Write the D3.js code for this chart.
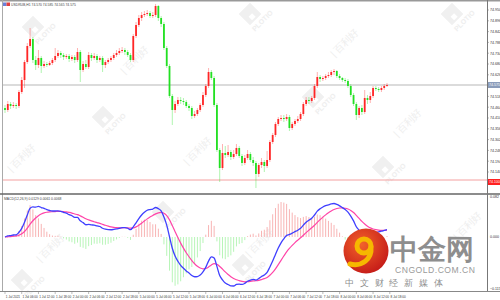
<!DOCTYPE html>
<html>
<head>
<meta charset="utf-8">
<script src="https://cdn.jsdelivr.net/npm/d3@7"></script>
<style>
  body { margin: 0; background: #fff; }
  svg { display: block; }
  text { font-family: "Liberation Sans", "DejaVu Sans", sans-serif; }
</style>
</head>
<body>
<script>
// ---- data (H1 bars) ----
const symbolLabel = "USDRUB,H1  74.570 74.585 74.565 74.575";
const macdLabel = "MACD(12,26,9) 0.0129 0.0061 0.0068";

const firstOpen = 74.460;
const closes = [74.450,74.480,74.470,74.475,74.470,74.540,74.600,74.690,74.770,74.805,
  74.700,74.675,74.710,74.670,74.680,74.675,74.685,74.700,74.720,74.735,
  74.725,74.715,74.720,74.705,74.715,74.700,74.740,74.650,74.680,74.665,
  74.725,74.710,74.720,74.700,74.710,74.675,74.690,74.700,74.710,74.725,
  74.735,74.745,74.750,74.740,74.725,74.700,74.820,74.875,74.910,74.925,
  74.930,74.935,74.920,74.925,74.970,74.910,74.880,74.760,74.670,74.520,
  74.450,74.480,74.500,74.495,74.490,74.470,74.460,74.420,74.430,74.450,
  74.475,74.525,74.570,74.640,74.610,74.475,74.250,74.160,74.235,74.225,
  74.240,74.215,74.230,74.260,74.220,74.185,74.210,74.230,74.200,74.185,
  74.130,74.175,74.190,74.170,74.200,74.290,74.325,74.380,74.405,74.410,
  74.405,74.415,74.360,74.380,74.395,74.405,74.430,74.480,74.500,74.495,
  74.510,74.570,74.615,74.605,74.610,74.620,74.625,74.640,74.645,74.620,
  74.610,74.600,74.595,74.570,74.525,74.480,74.425,74.460,74.440,74.510,
  74.500,74.520,74.560,74.555,74.550,74.560,74.570,74.575];
const highs = [74.475,74.495,74.490,74.490,74.485,74.550,74.615,74.700,74.785,74.860,
  74.815,74.720,74.750,74.720,74.695,74.690,74.695,74.710,74.760,74.750,
  74.745,74.735,74.730,74.730,74.725,74.725,74.760,74.750,74.695,74.700,
  74.740,74.735,74.735,74.730,74.720,74.720,74.700,74.710,74.720,74.735,
  74.750,74.760,74.765,74.760,74.750,74.735,74.830,74.890,74.925,74.940,
  74.945,74.950,74.945,74.940,74.980,74.975,74.920,74.890,74.770,74.680,
  74.530,74.495,74.515,74.515,74.510,74.500,74.480,74.470,74.445,74.460,
  74.485,74.540,74.580,74.660,74.650,74.620,74.485,74.260,74.280,74.270,
  74.275,74.250,74.250,74.280,74.270,74.230,74.225,74.250,74.240,74.215,
  74.195,74.185,74.210,74.200,74.245,74.300,74.335,74.390,74.415,74.425,
  74.425,74.430,74.425,74.390,74.405,74.420,74.440,74.490,74.515,74.515,
  74.520,74.580,74.640,74.625,74.620,74.630,74.640,74.650,74.655,74.650,
  74.630,74.615,74.610,74.605,74.580,74.535,74.490,74.470,74.475,74.550,
  74.525,74.540,74.570,74.570,74.565,74.570,74.580,74.585];
const lows = [74.435,74.440,74.455,74.460,74.455,74.460,74.530,74.560,74.680,74.760,
  74.685,74.650,74.660,74.635,74.660,74.665,74.670,74.675,74.690,74.710,
  74.710,74.700,74.705,74.690,74.695,74.685,74.690,74.590,74.640,74.655,
  74.655,74.695,74.700,74.685,74.690,74.640,74.660,74.680,74.690,74.700,
  74.715,74.725,74.735,74.725,74.715,74.690,74.690,74.810,74.865,74.895,
  74.915,74.920,74.910,74.910,74.915,74.895,74.865,74.750,74.660,74.510,
  74.375,74.435,74.470,74.480,74.475,74.460,74.445,74.405,74.410,74.420,
  74.440,74.465,74.515,74.560,74.600,74.465,74.240,74.090,74.150,74.210,
  74.215,74.200,74.205,74.220,74.210,74.170,74.175,74.200,74.190,74.170,
  74.060,74.115,74.160,74.140,74.160,74.190,74.280,74.315,74.370,74.395,
  74.390,74.395,74.345,74.350,74.370,74.385,74.395,74.420,74.470,74.480,
  74.485,74.500,74.560,74.590,74.595,74.600,74.610,74.615,74.625,74.610,
  74.600,74.590,74.585,74.560,74.515,74.470,74.400,74.410,74.425,74.430,
  74.480,74.485,74.510,74.545,74.540,74.540,74.550,74.565];

const redLevel = 74.100;
const priceTicks = [74.950,74.896,74.842,74.788,74.734,74.680,74.626,74.572,74.518,
  74.464,74.410,74.356,74.302,74.248,74.194,74.140];
const timeLabels = ["1 Jul 2021","1 Jul 06:00","1 Jul 12:00","1 Jul 18:00","2 Jul 00:00",
  "2 Jul 06:00","2 Jul 12:00","2 Jul 18:00","5 Jul 00:00","5 Jul 06:00","5 Jul 12:00",
  "5 Jul 18:00","6 Jul 00:00","6 Jul 06:00","6 Jul 12:00","6 Jul 18:00","7 Jul 00:00",
  "7 Jul 06:00","7 Jul 12:00","7 Jul 18:00","8 Jul 00:00","8 Jul 06:00","8 Jul 12:00",
  "8 Jul 18:00"];
const barsPerLabel = 6;

// ---- layout ----
const width = 500, height = 300;
const plotRight = 487;
const mainTop = 1, mainBottom = 193;
const subTop = 195, subBottom = 291;

const n = Math.min(closes.length, highs.length, lows.length);
const bars = d3.range(n).map((i) => ({
  i,
  open: i === 0 ? firstOpen : closes[i - 1],
  close: closes[i],
  high: highs[i],
  low: lows[i]
}));

const svg = d3.select("body").append("svg")
  .attr("width", width)
  .attr("height", height);

const x = d3.scaleLinear().domain([0, n - 1]).range([5, 387]);
const y = d3.scaleLinear().domain([74.035, 74.990]).range([mainBottom, 2]);

// watermarks
const wm = svg.append("g").attr("class", "watermarks");
[[33, 27], [103, 117], [250, 14], [313, 97], [383, 167], [163, 212], [243, 265], [22, 280], [452, 14]]
  .forEach(([px, py]) => {
    const g = wm.append("g").attr("transform", `translate(${px},${py}) rotate(-45)`);
    g.append("rect").attr("x", -8).attr("y", -8).attr("width", 16).attr("height", 16).attr("fill", "#f0f0f0");
    g.append("rect").attr("x", -3).attr("y", 1).attr("width", 5).attr("height", 5).attr("fill", "#fff");
    g.append("text").attr("x", -9).attr("y", 16).attr("font-size", 7).attr("font-weight", "bold")
      .attr("fill", "#eeeeee").text("PLOTIO");
  });
[[137, 62], [200, 153], [347, 45], [410, 125], [53, 250], [262, 245], [470, 228], [24, 160]]
  .forEach(([px, py]) => {
    wm.append("text")
      .attr("transform", `translate(${px},${py}) rotate(-45)`)
      .attr("text-anchor", "middle")
      .attr("font-size", 10)
      .attr("font-family", "Noto Sans CJK SC")
      .attr("fill", "#eeeeee")
      .text("| 百利好");
  });

// level lines
svg.append("line")
  .attr("x1", 2).attr("x2", plotRight)
  .attr("y1", y(closes[n - 1])).attr("y2", y(closes[n - 1]))
  .attr("stroke", "#cfcfcf").attr("stroke-width", 1.5);
svg.append("line")
  .attr("x1", 2).attr("x2", plotRight)
  .attr("y1", y(redLevel)).attr("y2", y(redLevel))
  .attr("stroke", "#f4a0a0").attr("stroke-width", 1);

// candles
const upColor = "#ff2626", downColor = "#22e022";
const candles = svg.append("g").attr("class", "candles")
  .selectAll("g")
  .data(bars)
  .enter()
  .append("g");
candles.append("line")
  .attr("x1", (d) => x(d.i)).attr("x2", (d) => x(d.i))
  .attr("y1", (d) => y(d.high)).attr("y2", (d) => y(d.low))
  .attr("stroke", (d) => d.close >= d.open ? upColor : downColor)
  .attr("stroke-opacity", 0.45)
  .attr("stroke-width", 0.8);
candles.append("rect")
  .attr("x", (d) => x(d.i) - 0.9)
  .attr("width", 1.8)
  .attr("y", (d) => y(Math.max(d.open, d.close)))
  .attr("height", (d) => Math.max(0.8, Math.abs(y(d.open) - y(d.close))))
  .attr("fill", (d) => d.close >= d.open ? upColor : downColor);

// MACD from closes
function ema(values, period) {
  const k = 2 / (period + 1);
  const out = [];
  values.forEach((v, i) => out.push(i === 0 ? v : v * k + out[i - 1] * (1 - k)));
  return out;
}
const cl = closes.slice(0, n);
const e12 = ema(cl, 12), e26 = ema(cl, 26);
const macd = cl.map((_, i) => e12[i] - e26[i]);
const signal = ema(macd, 9);
const histScale = 2;
const hist = macd.map((m, i) => (m - signal[i]) * histScale);

const ym = d3.scaleLinear()
  .domain(d3.extent([...macd, ...signal, ...hist]))
  .range([286, 202]);

svg.append("g").attr("class", "hist")
  .selectAll("rect")
  .data(hist)
  .enter()
  .append("rect")
  .attr("x", (d, i) => x(i) - 0.5)
  .attr("width", 1)
  .attr("y", (d) => Math.min(ym(0), ym(d)))
  .attr("height", (d) => Math.abs(ym(d) - ym(0)))
  .attr("fill", (d) => d >= 0 ? "#f8b4b4" : "#b8f5b8");

const line = d3.line().x((d, i) => x(i)).y((d) => ym(d)).curve(d3.curveMonotoneX);
svg.append("path").datum(signal)
  .attr("d", line).attr("fill", "none")
  .attr("stroke", "#ff44a8").attr("stroke-width", 1.2);
svg.append("path").datum(macd)
  .attr("d", line).attr("fill", "none")
  .attr("stroke", "#3f3fff").attr("stroke-width", 1.3);

// frames
const frame = svg.append("g").attr("fill", "none");
frame.append("line").attr("x1", 0).attr("x2", width).attr("y1", 0.75).attr("y2", 0.75)
  .attr("stroke", "#999").attr("stroke-width", 1.5);
frame.append("line").attr("x1", 2.5).attr("x2", 2.5).attr("y1", 0).attr("y2", subBottom)
  .attr("stroke", "#aaa");
frame.append("line").attr("x1", 0).attr("x2", width).attr("y1", 194).attr("y2", 194)
  .attr("stroke", "#666").attr("stroke-width", 1.5);
frame.append("line").attr("x1", 0).attr("x2", width).attr("y1", subBottom + 0.5).attr("y2", subBottom + 0.5)
  .attr("stroke", "#888");
frame.append("line").attr("x1", plotRight + 0.5).attr("x2", plotRight + 0.5).attr("y1", 0).attr("y2", subBottom)
  .attr("stroke", "#777");

// price axis
const pa = svg.append("g").attr("class", "price-axis");
priceTicks.forEach((p) => {
  pa.append("line").attr("x1", plotRight).attr("x2", plotRight + 2)
    .attr("y1", y(p)).attr("y2", y(p)).attr("stroke", "#777").attr("stroke-width", 0.5);
  pa.append("text").attr("x", plotRight + 3).attr("y", y(p) + 1.3)
    .attr("font-size", 3.6).attr("fill", "#333").text(p.toFixed(3));
});
const yc = y(closes[n - 1]);
pa.append("rect").attr("x", plotRight + 1).attr("y", yc - 3).attr("width", 12).attr("height", 6)
  .attr("fill", "#8b9cba");
pa.append("text").attr("x", plotRight + 2).attr("y", yc + 1.3)
  .attr("font-size", 3.6).attr("fill", "#fff").text(closes[n - 1].toFixed(3));
const yr = y(redLevel);
pa.append("rect").attr("x", plotRight + 1).attr("y", yr - 1).attr("width", 12).attr("height", 6)
  .attr("fill", "#ff2020");
pa.append("text").attr("x", plotRight + 2).attr("y", yr + 3.3)
  .attr("font-size", 3.6).attr("fill", "#fff").text(redLevel.toFixed(3));

// MACD axis
const fmt = d3.format(".3f");
const dm = ym.domain();
[[dm[1], 197.5], [0, ym(0) + 1.3], [dm[0], 289.5]].forEach(([v, py]) => {
  pa.append("text").attr("x", plotRight + 3).attr("y", py)
    .attr("font-size", 3.6).attr("fill", "#333").text(fmt(v));
});

// time axis
const ta = svg.append("g").attr("class", "time-axis");
timeLabels.forEach((t, k) => {
  const tx = x(k * barsPerLabel);
  ta.append("line").attr("x1", tx).attr("x2", tx).attr("y1", subBottom + 1).attr("y2", subBottom + 3)
    .attr("stroke", "#777").attr("stroke-width", 0.5);
  ta.append("text").attr("x", tx + 0.8).attr("y", 297.5)
    .attr("font-size", 3.1).attr("fill", "#333").text(t);
});

// titles
svg.append("rect").attr("x", 3).attr("y", 2.5).attr("width", 3.5).attr("height", 3.5).attr("fill", "#6a7fd8");
svg.append("rect").attr("x", 6.5).attr("y", 2.5).attr("width", 3.5).attr("height", 3.5).attr("fill", "#e04040");
svg.append("text").attr("x", 11).attr("y", 5.6).attr("font-size", 3.4).attr("fill", "#444").text(symbolLabel);
svg.append("text").attr("x", 4).attr("y", 199.5).attr("font-size", 3.4).attr("fill", "#444").text(macdLabel);

// cngold logo
const logo = svg.append("g").attr("class", "logo");
const grad = svg.append("defs").append("radialGradient").attr("id", "lg")
  .attr("cx", "40%").attr("cy", "35%").attr("r", "70%");
grad.append("stop").attr("offset", "0%").attr("stop-color", "#f2622a");
grad.append("stop").attr("offset", "100%").attr("stop-color", "#c41a18");
logo.append("circle").attr("cx", 366).attr("cy", 251).attr("r", 22.5).attr("fill", "url(#lg)");
logo.append("circle").attr("cx", 364).attr("cy", 246).attr("r", 7)
  .attr("fill", "none").attr("stroke", "#f6b800").attr("stroke-width", 5);
logo.append("path").attr("d", "M371,247 C372,259 362,267 350,264")
  .attr("fill", "none").attr("stroke", "#f6b800").attr("stroke-width", 5).attr("stroke-linecap", "round");
logo.append("text").attr("x", 390).attr("y", 259).attr("font-size", 28).attr("font-weight", "bold")
  .attr("font-family", "Noto Sans CJK SC").attr("fill", "#8e8e8e").text("中金网");
logo.append("text").attr("x", 395).attr("y", 272.5).attr("font-size", 8.6).attr("letter-spacing", 0.5)
  .attr("fill", "#9a9a9a").text("CNGOLD.COM.CN");
logo.append("text").attr("x", 345).attr("y", 285.5).attr("font-size", 9).attr("letter-spacing", 5.8)
  .attr("font-family", "Noto Sans CJK SC").attr("fill", "#8e8e8e").text("中文财经新媒体");
</script>
</body>
</html>
